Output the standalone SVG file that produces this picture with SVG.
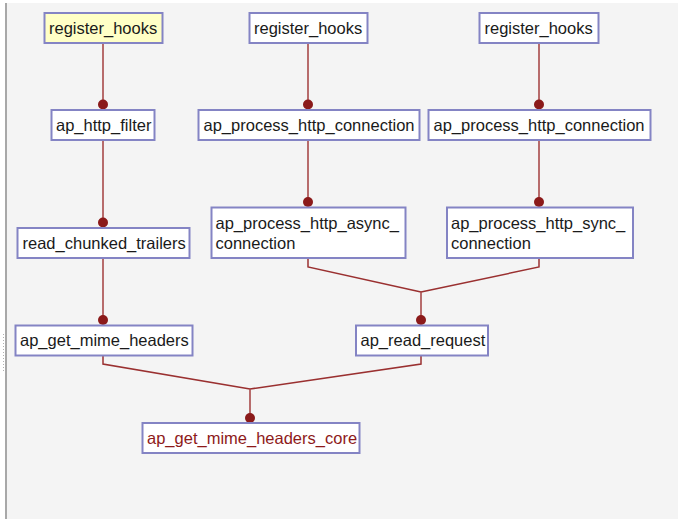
<svg xmlns="http://www.w3.org/2000/svg" width="678" height="519" viewBox="0 0 678 519">
  <style>
    .box { fill: #ffffff; stroke: #8484c4; stroke-width: 2; }
    .root { fill: #ffffc6; }
    .lbl { font-family: "Liberation Sans", Arial, sans-serif; font-size: 16.5px; fill: #1a1a1a; }
    .hot { fill: #8e1a1a; }
    .edge { fill: none; stroke: #a84a4a; stroke-width: 2; stroke-opacity: 0.8; }
    .merge { fill: none; stroke: #9a3030; stroke-width: 1.5; }
    .dot { fill: #8b1a1a; }
  </style>

  <!-- canvas -->
  <rect x="0" y="0" width="678" height="519" fill="#ffffff"/>
  <rect x="7" y="3" width="671" height="516" fill="#f4f4f4"/>
  <line x1="6" y1="3" x2="6" y2="519" stroke="#a8a8a8" stroke-width="2"/>
  <line x1="3.5" y1="334" x2="3.5" y2="372" stroke="#b0b0b0" stroke-width="1" stroke-dasharray="1 2"/>

  <!-- connectors -->
  <g id="edges">
    <line class="edge" x1="103" y1="43" x2="103" y2="104"/>
    <line class="edge" x1="308" y1="43" x2="308" y2="104"/>
    <line class="edge" x1="539" y1="43" x2="539" y2="104"/>
    <line class="edge" x1="103" y1="140" x2="103" y2="222"/>
    <line class="edge" x1="308" y1="140" x2="308" y2="202"/>
    <line class="edge" x1="539" y1="140" x2="539" y2="202"/>
    <line class="edge" x1="103" y1="258" x2="103" y2="320"/>
    <polyline class="merge" points="308,258 308,267 421,292"/>
    <polyline class="merge" points="539,258 539,267 421,292"/>
    <line class="edge" x1="421" y1="292" x2="421" y2="320"/>
    <polyline class="merge" points="103,355 103,364 250,389"/>
    <polyline class="merge" points="421,355 421,364 250,389"/>
    <line class="edge" x1="250" y1="389" x2="250" y2="418"/>
    <circle class="dot" cx="103" cy="104.5" r="5"/>
    <circle class="dot" cx="308" cy="104.5" r="5"/>
    <circle class="dot" cx="539" cy="104.5" r="5"/>
    <circle class="dot" cx="103" cy="222.5" r="5"/>
    <circle class="dot" cx="308" cy="202" r="5"/>
    <circle class="dot" cx="539" cy="202" r="5"/>
    <circle class="dot" cx="103" cy="320" r="5"/>
    <circle class="dot" cx="421" cy="320" r="5"/>
    <circle class="dot" cx="250" cy="418" r="5"/>
  </g>

  <!-- nodes -->
  <g id="n_register_hooks_1">
    <rect class="box root" x="44.5" y="13" width="118" height="30"/>
    <text class="lbl" x="49" y="33.5">register_hooks</text>
  </g>
  <g id="n_register_hooks_2">
    <rect class="box" x="249.5" y="13" width="118" height="30"/>
    <text class="lbl" x="254" y="33.5">register_hooks</text>
  </g>
  <g id="n_register_hooks_3">
    <rect class="box" x="479.5" y="13" width="119" height="30"/>
    <text class="lbl" x="484.5" y="33.5">register_hooks</text>
  </g>
  <g id="n_ap_http_filter">
    <rect class="box" x="51.5" y="110" width="103" height="30"/>
    <text class="lbl" x="56" y="130.5">ap_http_filter</text>
  </g>
  <g id="n_ap_process_http_connection_1">
    <rect class="box" x="198.5" y="110" width="221" height="30"/>
    <text class="lbl" x="203.5" y="130.5">ap_process_http_connection</text>
  </g>
  <g id="n_ap_process_http_connection_2">
    <rect class="box" x="428.5" y="110" width="222" height="30"/>
    <text class="lbl" x="433.5" y="130.5">ap_process_http_connection</text>
  </g>
  <g id="n_read_chunked_trailers">
    <rect class="box" x="17.5" y="228" width="172" height="30"/>
    <text class="lbl" x="22.5" y="248.5">read_chunked_trailers</text>
  </g>
  <g id="n_ap_process_http_async_connection">
    <rect class="box" x="211.5" y="207.5" width="194" height="50.5"/>
    <text class="lbl" x="215.5" y="229">ap_process_http_async_</text>
    <text class="lbl" x="215.5" y="248.5">connection</text>
  </g>
  <g id="n_ap_process_http_sync_connection">
    <rect class="box" x="447" y="207.5" width="186" height="50.5"/>
    <text class="lbl" x="451" y="229">ap_process_http_sync_</text>
    <text class="lbl" x="451" y="248.5">connection</text>
  </g>
  <g id="n_ap_get_mime_headers">
    <rect class="box" x="15.5" y="325.5" width="177" height="30"/>
    <text class="lbl" x="20" y="346">ap_get_mime_headers</text>
  </g>
  <g id="n_ap_read_request">
    <rect class="box" x="356" y="325.5" width="132" height="30"/>
    <text class="lbl" x="360.5" y="346">ap_read_request</text>
  </g>
  <g id="n_ap_get_mime_headers_core">
    <rect class="box" x="142.5" y="423" width="217" height="30"/>
    <text class="lbl hot" x="147" y="443.5">ap_get_mime_headers_core</text>
  </g>
</svg>
